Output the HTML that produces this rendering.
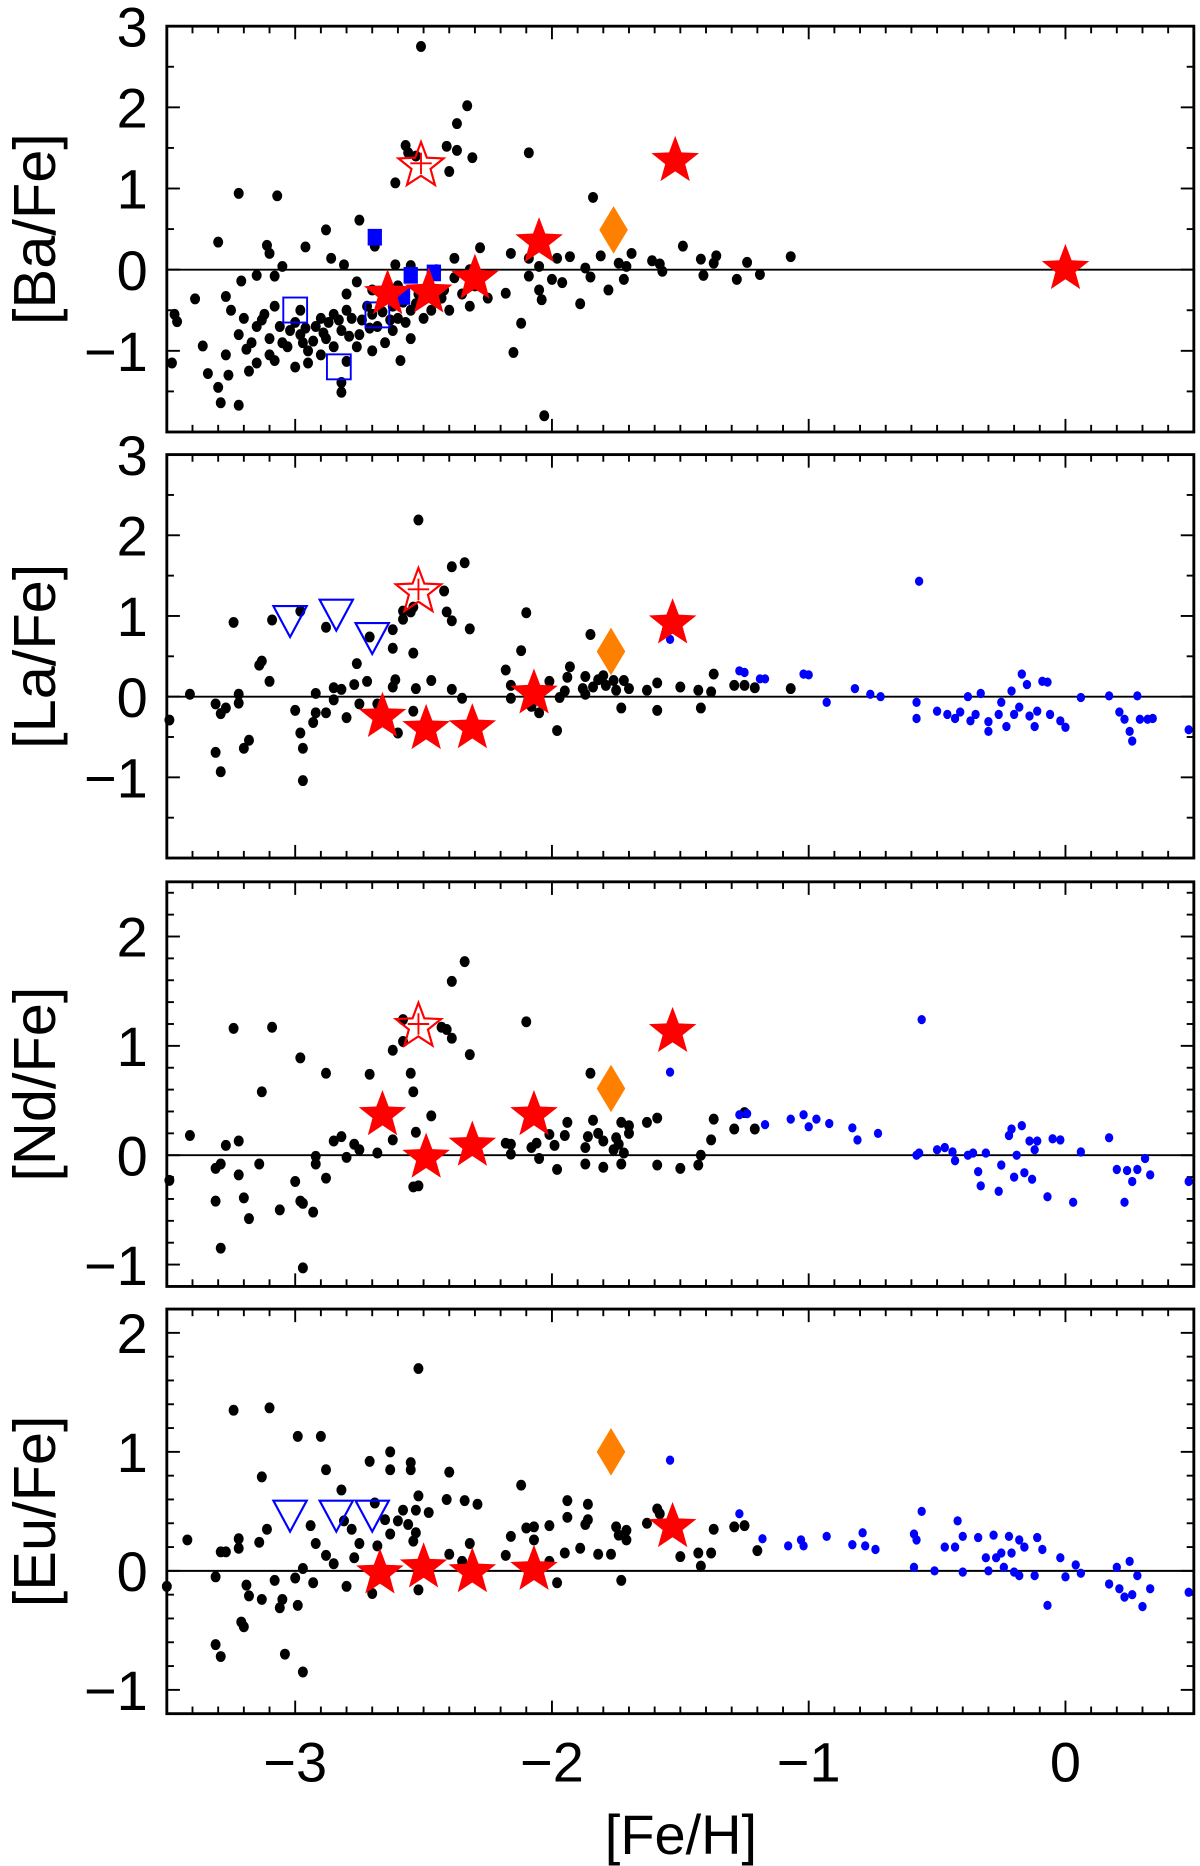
<!DOCTYPE html>
<html><head><meta charset="utf-8"><style>
html,body{margin:0;padding:0;background:#fff;}
svg{display:block;font-family:"Liberation Sans",sans-serif;}
</style></head><body>
<svg id="chart" width="1200" height="1866" viewBox="0 0 1008 1568" xmlns="http://www.w3.org/2000/svg"></svg>
<script>
// ---- data ----
const xTickLabels = [-3,-2,-1,0];
const baBlack = [[-2.51,2.75],[-2.33,2.02],[-2.37,1.8],[-2.57,1.53],[-2.56,1.44],[-2.53,1.4],[-2.41,1.52],[-2.37,1.47],[-2.31,1.38],[-2.4,1.21],[-2.61,1.07],[-2.09,1.44],[-3.22,0.94],[-3.07,0.91],[-1.84,0.89],[-2.75,0.61],[-2.88,0.49],[-3.3,0.34],[-3.11,0.3],[-3.1,0.2],[-2.96,0.28],[-2.69,0.29],[-2.28,0.27],[-2.16,0.2],[-2.09,0.14],[-2.05,0.04],[-1.93,0.16],[-1.98,0.14],[-1.81,0.17],[-1.69,0.2],[-1.49,0.29],[-1.42,0.13],[-1.36,0.17],[-1.37,0.08],[-1.24,0.09],[-1.07,0.16],[-1.61,0.11],[-1.58,0.07],[-1.74,0.08],[-1.71,0.04],[-1.57,-0.02],[-1.87,0.02],[-1.85,-0.09],[-1.41,-0.07],[-1.28,-0.12],[-1.19,-0.06],[-2.38,0.14],[-2.28,-0.12],[-2.18,-0.29],[-2.09,-0.08],[-2.05,-0.25],[-2.04,-0.37],[-2.0,-0.12],[-1.96,-0.16],[-1.89,-0.42],[-1.78,-0.25],[-1.72,-0.12],[-2.12,-0.66],[-2.15,-1.02],[-2.03,-1.8],[-2.59,-1.12],[-2.8,-1.13],[-2.82,-1.39],[-2.82,-1.51],[-3.29,-1.64],[-3.22,-1.67],[-3.34,-1.28],[-3.26,-1.3],[-3.3,-1.45],[-3.36,-0.94],[-3.27,-1.05],[-3.19,-0.98],[-3.48,-1.15],[-3.46,-0.64],[-3.47,-0.55],[-3.39,-0.36],[-3.27,-0.33],[-3.21,-0.14],[-3.15,-0.07],[-3.08,-0.08],[-3.05,0.04],[-2.81,0.06],[-2.86,0.14],[-2.61,0.06],[-3.25,-0.5],[-3.2,-0.6],[-3.15,-0.7],[-3.12,-0.55],[-3.1,-0.85],[-3.05,-0.9],[-3.02,-0.75],[-3.0,-0.65],[-2.98,-0.8],[-2.95,-1.0],[-2.92,-0.7],[-2.9,-0.6],[-2.88,-0.85],[-2.85,-0.55],[-2.82,-0.75],[-2.8,-0.5],[-2.78,-0.6],[-2.75,-0.8],[-2.72,-0.45],[-2.7,-0.55],[-2.68,-0.7],[-2.65,-0.35],[-2.62,-0.45],[-2.6,-0.6],[-2.58,-0.4],[-2.55,-0.5],[-2.52,-0.3],[-2.5,-0.6],[-2.48,-0.2],[-2.45,-0.4],[-2.42,-0.25],[-2.4,-0.5],[-2.35,-0.3],[-2.32,-0.45],[-2.3,-0.2],[-2.25,-0.35],[-3.15,-1.15],[-3.1,-1.05],[-3.0,-1.2],[-2.95,-1.15],[-2.9,-1.05],[-3.18,-1.25],[-2.76,-0.95],[-2.7,-1.0],[-2.65,-0.9],[-2.62,-0.75],[-2.55,-0.85],[-3.22,-0.8],[-3.08,-0.45],[-2.98,-0.5],[-2.85,-0.95],[-2.8,-0.3],[-2.76,-0.15],[-2.7,-0.25],[-2.6,-0.2],[-2.55,0.05],[-2.45,0.0],[-2.38,-0.1],[-2.32,0.0],[-3.13,-0.62],[-3.06,-0.7],[-3.03,-0.95],[-2.96,-0.72],[-2.93,-0.88],[-2.87,-0.65],[-2.83,-0.62],[-2.79,-0.82],[-2.74,-0.62],[-2.71,-0.72],[-2.66,-0.52],[-2.63,-0.62],[-2.57,-0.65],[-2.53,-0.42],[-2.47,-0.5],[-2.43,-0.35],[-3.17,-0.9],[-3.08,-1.12],[-2.97,-0.9],[-2.89,-0.78]];
const baBlueFilledSq = [[-2.69,0.4],[-2.55,-0.07],[-2.58,-0.33],[-2.46,-0.04]];
const baBlueOpenSq = [[-3.0,-0.49],[-2.68,-0.55],[-2.83,-1.19]];
const baStars = [[-2.05,0.37],[-2.3,-0.08],[-2.48,-0.25],[-2.64,-0.27],[-1.52,1.37],[0.0,0.04]];
const baOpenStar = [[-2.51,1.31]];
const baDiamond = [[-1.76,0.49]];

const laBlack = [[-3.49,-0.29],[-3.41,0.03],[-3.31,-0.09],[-3.29,-0.21],[-3.27,-0.14],[-3.22,0.03],[-3.22,-0.08],[-3.24,0.92],[-3.31,-0.69],[-3.29,-0.93],[-3.2,-0.64],[-3.18,-0.54],[-3.14,0.39],[-3.13,0.44],[-3.1,0.19],[-3.09,0.95],[-2.98,1.06],[-3.0,-0.17],[-2.98,-0.45],[-2.97,-0.64],[-2.97,-1.04],[-2.93,-0.32],[-2.92,-0.2],[-2.92,0.04],[-2.88,-0.2],[-2.88,0.86],[-2.85,0.11],[-2.85,-0.04],[-2.82,0.09],[-2.8,-0.26],[-2.77,0.15],[-2.76,0.41],[-2.75,-0.09],[-2.72,0.19],[-2.71,0.74],[-2.68,-0.09],[-2.62,0.83],[-2.62,0.6],[-2.61,0.21],[-2.62,0.12],[-2.6,-0.45],[-2.58,0.96],[-2.58,1.06],[-2.55,1.05],[-2.54,1.11],[-2.54,0.54],[-2.54,-0.18],[-2.53,0.1],[-2.52,2.19],[-2.47,0.2],[-2.42,1.31],[-2.41,1.05],[-2.39,0.94],[-2.39,1.61],[-2.34,1.66],[-2.39,0.09],[-2.35,-0.02],[-2.32,0.84],[-2.18,0.33],[-2.16,0.14],[-2.16,-0.02],[-2.12,0.57],[-2.1,1.04],[-2.08,-0.12],[-2.05,-0.2],[-2.01,0.19],[-1.98,-0.42],[-1.97,-0.01],[-1.95,0.07],[-1.94,0.24],[-1.93,0.37],[-1.88,0.1],[-1.87,0.03],[-1.87,0.25],[-1.85,0.77],[-1.84,0.12],[-1.82,0.21],[-1.8,0.26],[-1.79,0.14],[-1.76,0.2],[-1.75,0.08],[-1.73,-0.14],[-1.72,0.2],[-1.7,0.1],[-1.63,0.08],[-1.59,0.17],[-1.59,-0.17],[-1.5,0.12],[-1.43,0.08],[-1.42,-0.14],[-1.38,0.06],[-1.37,0.28],[-1.29,0.14],[-1.25,0.14],[-1.21,0.11],[-1.07,0.1]];
const laBlue = [[-1.54,0.71],[-1.27,0.32],[-1.19,0.22],[-1.25,0.3],[-1.17,0.22],[-1.02,0.28],[-1.0,0.27],[-0.93,-0.07],[-0.82,0.1],[-0.76,0.03],[-0.72,0.0],[-0.57,1.43],[-0.58,-0.07],[-0.58,-0.27],[-0.5,-0.18],[-0.46,-0.22],[-0.43,-0.27],[-0.41,-0.19],[-0.38,0.0],[-0.37,-0.3],[-0.35,-0.22],[-0.33,0.04],[-0.3,-0.31],[-0.3,-0.43],[-0.26,-0.22],[-0.25,-0.07],[-0.23,-0.37],[-0.21,0.07],[-0.2,-0.22],[-0.18,-0.13],[-0.17,0.28],[-0.15,0.15],[-0.14,-0.24],[-0.12,-0.37],[-0.11,-0.18],[-0.09,0.19],[-0.07,0.18],[-0.06,-0.22],[-0.02,-0.3],[0.0,-0.38],[0.06,-0.01],[0.17,0.01],[0.21,-0.19],[0.23,-0.28],[0.25,-0.43],[0.26,-0.55],[0.28,0.01],[0.29,-0.28],[0.32,-0.28],[0.34,-0.27],[0.48,-0.41]];
const laTriangles = [[-3.02,0.96],[-2.84,1.04],[-2.7,0.75]];
const laStars = [[-2.66,-0.22],[-2.49,-0.37],[-2.31,-0.36],[-2.07,0.07],[-1.53,0.94]];
const laOpenStar = [[-2.52,1.33]];
const laDiamond = [[-1.77,0.56]];

const ndBlack = [[-3.49,-0.23],[-3.41,0.18],[-3.31,-0.12],[-3.29,-0.08],[-3.31,-0.42],[-3.29,-0.85],[-3.27,0.09],[-3.24,1.16],[-3.22,0.13],[-3.22,-0.18],[-3.2,-0.39],[-3.18,-0.58],[-3.14,-0.08],[-3.13,0.58],[-3.09,1.17],[-3.06,-0.5],[-3.0,-0.24],[-2.98,0.89],[-2.98,-0.42],[-2.97,-0.44],[-2.97,-1.03],[-2.93,-0.52],[-2.92,-0.01],[-2.92,-0.08],[-2.88,0.75],[-2.88,-0.21],[-2.85,0.13],[-2.82,0.17],[-2.8,-0.02],[-2.77,0.1],[-2.75,0.05],[-2.71,0.74],[-2.68,0.02],[-2.62,0.96],[-2.62,0.14],[-2.58,1.04],[-2.58,1.24],[-2.55,0.75],[-2.54,0.58],[-2.54,-0.29],[-2.52,-0.28],[-2.53,0.21],[-2.47,0.36],[-2.43,1.17],[-2.41,1.15],[-2.39,1.07],[-2.39,1.59],[-2.34,1.77],[-2.32,0.92],[-2.18,0.11],[-2.16,0.1],[-2.16,0.01],[-2.1,1.22],[-2.08,0.07],[-2.06,0.11],[-2.05,-0.03],[-2.01,0.19],[-1.99,0.09],[-1.98,-0.13],[-1.95,0.18],[-1.94,0.3],[-1.87,0.07],[-1.87,-0.08],[-1.86,0.17],[-1.85,0.75],[-1.84,0.32],[-1.82,0.2],[-1.8,0.13],[-1.8,-0.11],[-1.76,0.05],[-1.75,0.16],[-1.74,0.1],[-1.73,0.3],[-1.73,-0.08],[-1.72,0.02],[-1.7,0.27],[-1.7,0.2],[-1.63,0.3],[-1.59,0.34],[-1.59,-0.09],[-1.5,-0.12],[-1.43,-0.09],[-1.42,0.0],[-1.38,0.14],[-1.37,0.33],[-1.29,0.24],[-1.25,0.39],[-1.21,0.24]];
const ndBlue = [[-1.54,0.76],[-1.27,0.37],[-1.24,0.38],[-1.17,0.28],[-1.07,0.33],[-1.02,0.37],[-1.0,0.26],[-0.97,0.33],[-0.92,0.29],[-0.83,0.25],[-0.81,0.14],[-0.73,0.2],[-0.58,0.0],[-0.56,1.24],[-0.57,0.02],[-0.5,0.05],[-0.47,0.07],[-0.44,0.03],[-0.43,-0.05],[-0.38,0.0],[-0.36,0.02],[-0.34,-0.15],[-0.33,-0.28],[-0.31,0.02],[-0.26,-0.33],[-0.25,-0.09],[-0.22,0.18],[-0.21,0.24],[-0.2,-0.2],[-0.19,0.0],[-0.17,0.27],[-0.16,-0.16],[-0.14,0.13],[-0.13,-0.22],[-0.12,0.05],[-0.11,0.13],[-0.07,-0.38],[-0.05,0.15],[-0.02,0.14],[0.03,-0.43],[0.06,0.03],[0.17,0.16],[0.2,-0.13],[0.23,-0.43],[0.24,-0.14],[0.26,-0.24],[0.28,-0.13],[0.31,-0.03],[0.33,-0.18],[0.48,-0.24]];
const ndStars = [[-2.66,0.39],[-2.49,0.0],[-2.31,0.11],[-2.07,0.39],[-1.53,1.15]];
const ndOpenStar = [[-2.52,1.2]];
const ndDiamond = [[-1.77,0.61]];

const euBlack = [[-3.5,-0.13],[-3.42,0.26],[-3.31,-0.05],[-3.31,-0.62],[-3.29,-0.72],[-3.29,0.16],[-3.27,0.16],[-3.22,0.27],[-3.22,0.19],[-3.24,1.35],[-3.19,-0.12],[-3.18,-0.21],[-3.21,-0.43],[-3.2,-0.47],[-3.14,0.24],[-3.13,0.79],[-3.11,0.35],[-3.1,1.37],[-3.13,-0.24],[-3.08,-0.08],[-3.06,-0.31],[-3.04,-0.7],[-3.05,-0.24],[-3.0,-0.06],[-2.99,1.13],[-2.97,0.02],[-2.99,-0.29],[-2.97,-0.85],[-2.94,0.38],[-2.93,-0.1],[-2.92,0.23],[-2.9,1.13],[-2.88,0.85],[-2.88,0.13],[-2.85,0.06],[-2.82,0.68],[-2.81,0.42],[-2.8,-0.13],[-2.78,0.35],[-2.77,0.11],[-2.75,0.23],[-2.71,0.92],[-2.7,-0.19],[-2.69,0.57],[-2.68,0.21],[-2.65,0.43],[-2.63,1.0],[-2.63,0.85],[-2.63,0.31],[-2.6,0.42],[-2.58,0.51],[-2.56,0.39],[-2.55,0.91],[-2.55,0.85],[-2.54,0.25],[-2.53,0.32],[-2.53,0.51],[-2.52,0.63],[-2.52,1.7],[-2.52,-0.16],[-2.48,0.49],[-2.41,0.6],[-2.4,0.83],[-2.4,0.14],[-2.34,0.59],[-2.32,0.23],[-2.29,0.56],[-2.35,0.08],[-2.18,0.13],[-2.16,0.29],[-2.12,0.72],[-2.1,0.36],[-2.07,0.26],[-2.07,0.37],[-2.01,0.38],[-2.01,0.08],[-1.98,-0.1],[-1.95,0.15],[-1.94,0.59],[-1.94,0.45],[-1.89,0.19],[-1.87,0.39],[-1.86,0.56],[-1.86,0.43],[-1.82,0.14],[-1.77,0.14],[-1.75,0.37],[-1.74,0.3],[-1.73,-0.08],[-1.71,0.34],[-1.71,0.26],[-1.63,0.4],[-1.59,0.52],[-1.58,0.48],[-1.5,0.12],[-1.43,0.15],[-1.42,0.04],[-1.38,0.15],[-1.37,0.35],[-1.29,0.37],[-1.25,0.38],[-1.2,0.17]];
const euBlue = [[-1.54,0.93],[-1.27,0.48],[-1.18,0.27],[-1.08,0.21],[-1.03,0.26],[-1.02,0.21],[-0.93,0.29],[-0.83,0.22],[-0.79,0.32],[-0.78,0.21],[-0.74,0.18],[-0.59,0.31],[-0.58,0.26],[-0.59,0.03],[-0.56,0.5],[-0.51,0.0],[-0.47,0.2],[-0.43,0.2],[-0.42,0.42],[-0.4,0.29],[-0.4,-0.01],[-0.34,0.28],[-0.31,0.11],[-0.3,0.0],[-0.28,0.3],[-0.27,0.11],[-0.25,0.15],[-0.24,0.03],[-0.22,0.29],[-0.21,0.15],[-0.2,-0.01],[-0.18,-0.04],[-0.18,0.26],[-0.16,0.2],[-0.12,-0.04],[-0.11,0.28],[-0.09,0.18],[-0.07,-0.29],[-0.02,0.11],[0.0,-0.05],[0.04,0.05],[0.06,-0.02],[0.17,-0.11],[0.2,0.03],[0.21,-0.15],[0.23,-0.22],[0.25,0.08],[0.26,-0.2],[0.28,-0.04],[0.3,-0.3],[0.33,-0.15],[0.48,-0.18]];
const euTriangles = [[-3.02,0.48],[-2.84,0.48],[-2.7,0.48]];
const euStars = [[-2.67,0.0],[-2.5,0.05],[-2.31,0.01],[-2.07,0.03],[-1.53,0.39]];
const euDiamond = [[-1.77,1.0]];

// ---- layout ----
const NS = "http://www.w3.org/2000/svg";
const svg = document.getElementById('chart');
const L = 140, R = 1003, XMIN = -3.5, XMAX = 0.5;
function xs(v){ return L + (v - XMIN) / (XMAX - XMIN) * (R - L); }
function el(tag, attrs, parent){
  const e = document.createElementNS(NS, tag);
  for (const k in attrs) e.setAttribute(k, attrs[k]);
  (parent || svg).appendChild(e);
  return e;
}
function starPath(cx, cy, ro){
  const ri = ro * 0.42; let d = '';
  for (let i = 0; i < 10; i++){
    const r = i % 2 ? ri : ro;
    const a = -Math.PI/2 + i * Math.PI/5;
    d += (i ? 'L' : 'M') + (cx + r*Math.cos(a)).toFixed(1) + ',' + (cy + r*Math.sin(a)).toFixed(1);
  }
  return d + 'Z';
}

const panels = [
  {name:'ba', label:'[Ba/Fe]', top:22, bot:363, ymin:-2, ymax:3, minor:0.5, ticks:[-1,0,1,2,3],
   black:baBlack, blue:[], sqF:baBlueFilledSq, sqO:baBlueOpenSq, tri:[], stars:baStars, ostar:baOpenStar, dia:baDiamond},
  {name:'la', label:'[La/Fe]', top:382, bot:721, ymin:-2, ymax:3, minor:0.5, ticks:[-1,0,1,2,3],
   black:laBlack, blue:laBlue, sqF:[], sqO:[], tri:laTriangles, stars:laStars, ostar:laOpenStar, dia:laDiamond},
  {name:'nd', label:'[Nd/Fe]', top:741, bot:1081, ymin:-1.2, ymax:2.5, minor:0.2, ticks:[-1,0,1,2],
   black:ndBlack, blue:ndBlue, sqF:[], sqO:[], tri:[], stars:ndStars, ostar:ndOpenStar, dia:ndDiamond},
  {name:'eu', label:'[Eu/Fe]', top:1100, bot:1440, ymin:-1.2, ymax:2.2, minor:0.2, ticks:[-1,0,1,2],
   black:euBlack, blue:euBlue, sqF:[], sqO:[], tri:euTriangles, stars:euStars, ostar:[], dia:euDiamond}
];

panels.forEach((p, pi) => {
  const ys = v => p.bot - (v - p.ymin) / (p.ymax - p.ymin) * (p.bot - p.top);
  const g = el('g', {});
  
  
  const z = el('line', {x1:L, x2:R, y1:ys(0), y2:ys(0), stroke:'#000', 'stroke-width':1.6}, g);
  
  
  for (let k = -35; k <= 5; k++){
    const v = k / 10, major = (k % 10 === 0), len = major ? 11 : 6, x = xs(v);
    el('line', {x1:x, x2:x, y1:p.bot, y2:p.bot - len, stroke:'#000', 'stroke-width':1.6}, g);
    el('line', {x1:x, x2:x, y1:p.top, y2:p.top + len, stroke:'#000', 'stroke-width':1.6}, g);
  }
  const n0 = Math.ceil(p.ymin / p.minor - 1e-6), n1 = Math.floor(p.ymax / p.minor + 1e-6);
  for (let k = n0; k <= n1; k++){
    const v = k * p.minor, major = Math.abs(v - Math.round(v)) < 1e-6, len = major ? 11 : 6, y = ys(v);
    el('line', {x1:L, x2:L + len, y1:y, y2:y, stroke:'#000', 'stroke-width':1.6}, g);
    el('line', {x1:R, x2:R - len, y1:y, y2:y, stroke:'#000', 'stroke-width':1.6}, g);
  }
  p.ticks.forEach(t => {
    const tx = el('text', {x:124, y:ys(t) + 17, 'text-anchor':'end', 'font-size':47}, g);
    tx.textContent = t < 0 ? '\u2212' + Math.abs(t) : String(t);
    
    
  });
  const yl = el('text', {x:0, y:0, 'text-anchor':'middle', 'font-size':50,
    transform:'translate(46,' + ((p.top + p.bot)/2) + ') rotate(-90)'}, g);
  yl.textContent = p.label;
  
  

  p.black.forEach(d => {
    const c = el('ellipse', {cx:xs(d[0]), cy:ys(d[1]), rx:4.2, ry:4.6, fill:'#000'}, g);
    
    
  });
  p.blue.forEach(d => {
    const c = el('ellipse', {cx:xs(d[0]), cy:ys(d[1]), rx:3.5, ry:3.9, fill:'#0000ff'}, g);
    
    
  });
  p.sqF.forEach(d => {
    const s = el('rect', {x:xs(d[0]) - 6, y:ys(d[1]) - 7, width:12, height:14, fill:'#0000ff'}, g);
    
    
  });
  p.sqO.forEach(d => {
    const s = el('rect', {x:xs(d[0]) - 10, y:ys(d[1]) - 10, width:20, height:21, fill:'none', stroke:'#0000ff', 'stroke-width':1.6}, g);
    
    
  });
  p.tri.forEach(d => {
    const x = xs(d[0]), y = ys(d[1]);
    const t = el('path', {d:'M' + (x-14) + ',' + (y-11) + 'L' + (x+14) + ',' + (y-11) + 'L' + x + ',' + (y+15) + 'Z', fill:'none', stroke:'#0000ff', 'stroke-width':1.8}, g);
    
    
  });
  p.dia.forEach(d => {
    const x = xs(d[0]), y = ys(d[1]);
    const t = el('path', {d:'M' + x + ',' + (y-20) + 'L' + (x+12) + ',' + y + 'L' + x + ',' + (y+20) + 'L' + (x-12) + ',' + y + 'Z', fill:'#ff8000'}, g);
    
    
  });
  p.stars.forEach(d => {
    const x = xs(d[0]), y = ys(d[1]);
    const s = el('path', {d:starPath(x, y + 2, 21), fill:'#ff0000'}, g);
    
    
    el('line', {x1:x-11, x2:x+11, y1:y-2, y2:y-2, stroke:'#ff0000', 'stroke-width':2}, g);
  });
  p.ostar.forEach(d => {
    const x = xs(d[0]), y = ys(d[1]);
    const s = el('path', {d:starPath(x, y + 2, 20), fill:'none', stroke:'#ff0000', 'stroke-width':1.8}, g);
    
    
    el('line', {x1:x, x2:x, y1:y-9, y2:y+9, stroke:'#ff0000', 'stroke-width':1.6}, g);
    el('line', {x1:x-9, x2:x+9, y1:y, y2:y, stroke:'#ff0000', 'stroke-width':1.6}, g);
  });
  const f = el('rect', {x:L, y:p.top, width:R - L, height:p.bot - p.top, fill:'none', stroke:'#000', 'stroke-width':2.4}, g);
  
  
});

xTickLabels.forEach(t => {
  const tx = el('text', {x:xs(t), y:1497, 'text-anchor':'middle', 'font-size':47});
  tx.textContent = t < 0 ? '\u2212' + Math.abs(t) : String(t);
  
  
});
const xt = el('text', {x:572, y:1558, 'text-anchor':'middle', 'font-size':47});
xt.textContent = '[Fe/H]';


</script>
</body></html>
